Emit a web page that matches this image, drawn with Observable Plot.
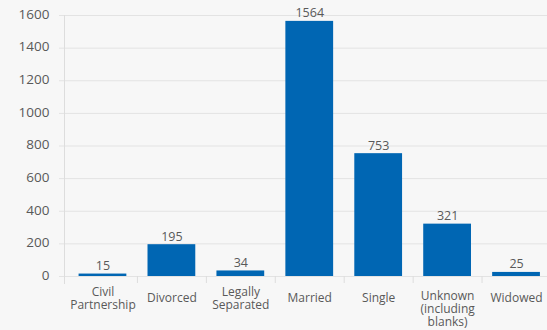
<!DOCTYPE html>
<html>
<head>
<meta charset="utf-8">
<script src="https://cdn.jsdelivr.net/npm/d3@7"></script>
<script src="https://cdn.jsdelivr.net/npm/@observablehq/plot@0.6"></script>
<style>
  html, body { margin: 0; padding: 0; background: #f7f7f7; }
  #chart svg { display: block; }
</style>
</head>
<body>
<div id="chart"></div>
<script>
const categories = ["Civil Partnership", "Divorced", "Legally Separated", "Married", "Single", "Unknown (including blanks)", "Widowed"];
const categoryLabels = ["Civil\nPartnership", "Divorced", "Legally\nSeparated", "Married", "Single", "Unknown\n(including\nblanks)", "Widowed"];
const values = [15, 195, 34, 1564, 753, 321, 25];
const yTicks = [0, 200, 400, 600, 800, 1000, 1200, 1400, 1600];

const data = categories.map((c, i) => ({
  category: c,
  value: values[i],
  label: categoryLabels[i],
  lines: categoryLabels[i].split("\n").length
}));

const textColor = "#595959";
const lineColor = "#dddddd";

const chart = Plot.plot({
  width: 547,
  height: 330,
  marginLeft: 64,
  marginRight: 0,
  marginTop: 15,
  marginBottom: 54,
  style: { background: "#f7f7f7", fontFamily: "'Open Sans', sans-serif", color: textColor },
  x: { domain: categories, range: [68, 550.5], paddingInner: 0.307, paddingOuter: 0.1535, round: false, label: null },
  y: { domain: [0, 1600], label: null },
  marks: [
    Plot.gridY(yTicks, { stroke: "#e3e3e3", strokeOpacity: 1, insetLeft: -5 }),
    Plot.axisY(yTicks, { tickSize: 0, tickPadding: 15, fontSize: 13.5, fill: textColor, dy: -1, tickFormat: d => String(d), label: null }),
    Plot.frame({ anchor: "left", stroke: lineColor, insetBottom: -7 }),
    Plot.axisX(categories.slice(1), { tickSize: 7, dx: -34.46, tickFormat: () => "", stroke: lineColor, strokeOpacity: 1, label: null }),
    Plot.barY(data, { x: "category", y: "value", fill: "#0066b3" }),
    Plot.text(data, { x: "category", y: "value", text: d => String(d.value), lineAnchor: "bottom", dy: -4, fontSize: 12.5, fill: textColor }),
    Plot.text(data.filter(d => d.lines < 3), { x: "category", y: 0, text: "label", lineAnchor: "middle", dy: 21.5, fontSize: 12, lineHeight: 1.08, fill: textColor }),
    Plot.text(data.filter(d => d.lines >= 3), { x: "category", y: 0, text: "label", lineAnchor: "top", dy: 15, fontSize: 12, lineHeight: 1.05, fill: textColor })
  ]
});

document.getElementById("chart").appendChild(chart);
</script>
</body>
</html>
